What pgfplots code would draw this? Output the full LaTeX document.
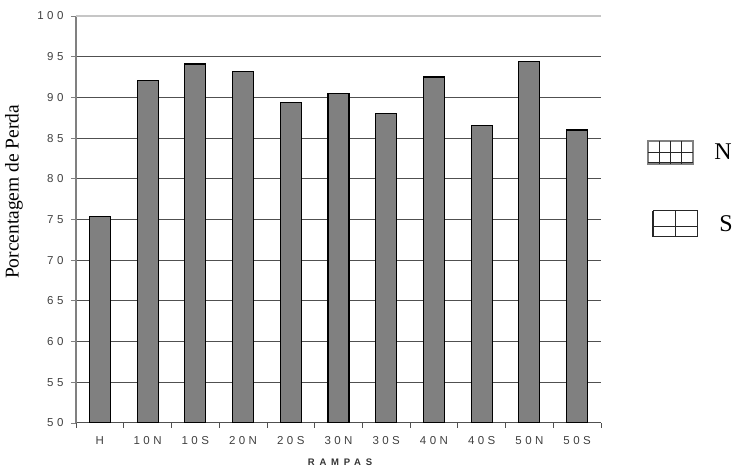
\documentclass[border=0pt]{standalone}
\usepackage{pgfplots}
\pgfplotsset{compat=1.18}
\usepackage{fontspec}
\setmainfont{Liberation Serif}
\newfontfamily\tickfont[LetterSpace=30]{Liberation Sans}
\newfontfamily\boldtickfont[LetterSpace=50]{Liberation Sans}
\definecolor{barfill}{HTML}{808080}
\definecolor{gridc}{HTML}{505050}
\begin{document}
\begin{tikzpicture}[x=1pt,y=1pt]
\path[use as bounding box] (0,0) rectangle (736,470);
\begin{axis}[
  at={(76pt,47pt)}, anchor=south west,
  scale only axis, width=525pt, height=407pt,
  xmin=-0.5, xmax=10.5, ymin=50, ymax=100,
  axis lines=left,
  axis line style={-},
  x axis line style={draw=gridc, line width=1pt},
  y axis line style={draw=gray, line width=1.2pt},
  xtick={0,...,10},
  xticklabels={H,10N,10S,20N,20S,30N,30S,40N,40S,50N,50S},
  major x tick style={draw=none},
  minor xtick={-0.5,0.5,...,10.5},
  minor x tick style={draw=gridc, line width=0.8pt},
  ytick={50,55,...,95},
  extra y ticks={100},
  extra y tick style={grid style={draw=gray!45, line width=1.2pt}},
  y tick style={draw=gray, line width=0.8pt},
  tick align=outside,
  major tick length=5pt, minor tick length=5pt,
  ymajorgrids,
  grid style={draw=gridc, line width=1pt},
  /pgf/number format/assume math mode=true,
  ticklabel style={font=\tickfont\fontsize{11.5}{13}\selectfont, text=black!75},
  yticklabel style={xshift=-4pt},
  xticklabel style={yshift=-5pt},
  xlabel={\boldtickfont\bfseries\fontsize{9.5}{11}\selectfont RAMPAS},
  xlabel style={at={(axis description cs:0.503,-0.096)}, anchor=center, text=black!80},
  ylabel={\fontsize{19.5}{21}\selectfont Porcentagem de Perda},
  ylabel style={at={(axis description cs:-0.118,0.568)}, anchor=center},
]
\addplot[ybar, bar width=21pt, fill=barfill, draw=black, line width=1.1pt]
 coordinates {(0,75.4) (1,92.1) (2,94.1) (3,93.2) (4,89.4) (5,90.5) (6,88.0) (7,92.5) (8,86.6) (9,94.4) (10,86.0)};
\end{axis}
% legend
\begin{scope}[line width=1pt, draw=black!85]
 \draw[draw=gray, line width=1.4pt] (648,306) rectangle (693,329);
 \foreach \xx in {659.25,670.5,681.75} \draw (\xx,306) -- (\xx,329);
 \draw (648,317.5) -- (693,317.5);
 \draw (648,307) -- (693,307);
 \node[font=\fontsize{24}{26}\selectfont] at (723,318) {N};
 \draw (653,233) rectangle (697,259);
 \draw[line width=2pt] (653,233) -- (653,259);
 \draw (675,233) -- (675,259);
 \draw (653,243) -- (697,243);
 \node[font=\fontsize{24}{26}\selectfont] at (726,246) {S};
\end{scope}
\end{tikzpicture}
\end{document}
